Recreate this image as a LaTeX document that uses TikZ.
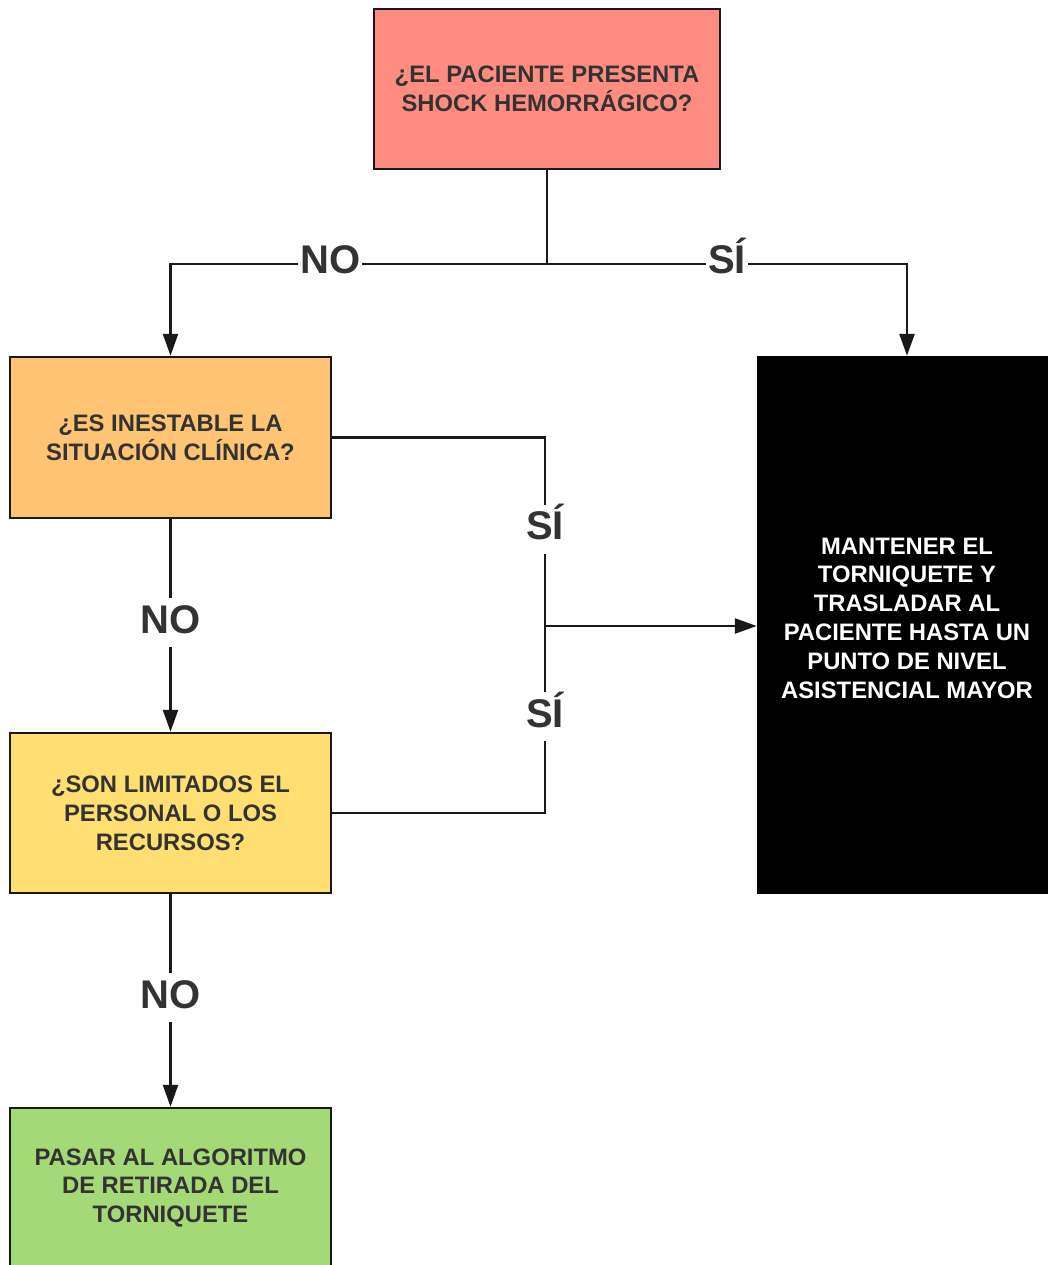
\documentclass[tikz,border=0pt]{standalone}
\usepackage{fontspec}
\setmainfont{Liberation Sans}
\usetikzlibrary{arrows.meta}
\definecolor{cred}{HTML}{FF8C80}
\definecolor{corange}{HTML}{FFC374}
\definecolor{cyellow}{HTML}{FFDF71}
\definecolor{cgreen}{HTML}{A3D977}
\definecolor{ctext}{HTML}{333333}
\tikzset{
  box/.style={rectangle, draw=black!90, line width=2.5pt, align=center, text=ctext,
    font=\fontsize{23.8}{28.8}\selectfont\bfseries, inner sep=0pt},
  conn/.style={line width=2.5pt, draw=black!90},
  arr/.style={conn, -{Triangle[length=22pt,width=15pt]}},
  lbl/.style={fill=white, text=ctext, font=\fontsize{40}{44}\selectfont\bfseries,
    inner xsep=2pt, inner ysep=2pt, text height=33pt, text depth=12pt}
}
\begin{document}
\begin{tikzpicture}[x=1pt,y=-1pt]
\clip (0,0) rectangle (1048,1265);
\fill[white] (0,0) rectangle (1048,1265);
\node[box, fill=cred, minimum width=346pt, minimum height=160pt] (top) at (547,89) {¿EL PACIENTE PRESENTA\\SHOCK HEMORRÁGICO?};
\node[box, fill=corange, minimum width=321pt, minimum height=161pt] (orange) at (170.5,437.5) {¿ES INESTABLE LA\\SITUACIÓN CLÍNICA?};
\node[box, fill=cyellow, minimum width=321pt, minimum height=160pt] (yellow) at (170.5,813) {¿SON LIMITADOS EL\\PERSONAL O LOS\\RECURSOS?};
\node[box, fill=cgreen, minimum width=321pt, minimum height=160pt] (green) at (170.5,1188) {PASAR AL ALGORITMO\\DE RETIRADA DEL\\TORNIQUETE};
\node[box, fill=black, draw=black, text=white, minimum width=298pt, minimum height=536pt] (black) at (907,625) {};
\node[text=white, align=center, font=\fontsize{23.8}{28.8}\selectfont\bfseries] (blacktxt) at (907,618) {MANTENER EL\\TORNIQUETE Y\\TRASLADAR AL\\PACIENTE HASTA UN\\PUNTO DE NIVEL\\ASISTENCIAL MAYOR};
\coordinate (j1) at (547,264);
\coordinate (j2) at (545,626);
\draw[conn] (top.south) -- (j1);
\draw[arr] (j1) -| node[lbl, pos=0.288, yshift=1.5pt] {NO} (orange.north);
\draw[arr] (j1) -| node[lbl, pos=0.25, yshift=1.5pt] {SÍ} (black.north);
\draw[conn] (orange.east) -| node[lbl, pos=0.744] {SÍ} (j2);
\draw[conn] (yellow.east) -| node[lbl, pos=0.758] {SÍ} (j2);
\draw[arr] (j2) -- (black.west |- j2);
\draw[arr] (orange.south) -- node[lbl, pos=0.486] {NO} (yellow.north);
\draw[arr] (yellow.south) -- node[lbl, pos=0.486] {NO} (green.north);
\end{tikzpicture}
\end{document}
